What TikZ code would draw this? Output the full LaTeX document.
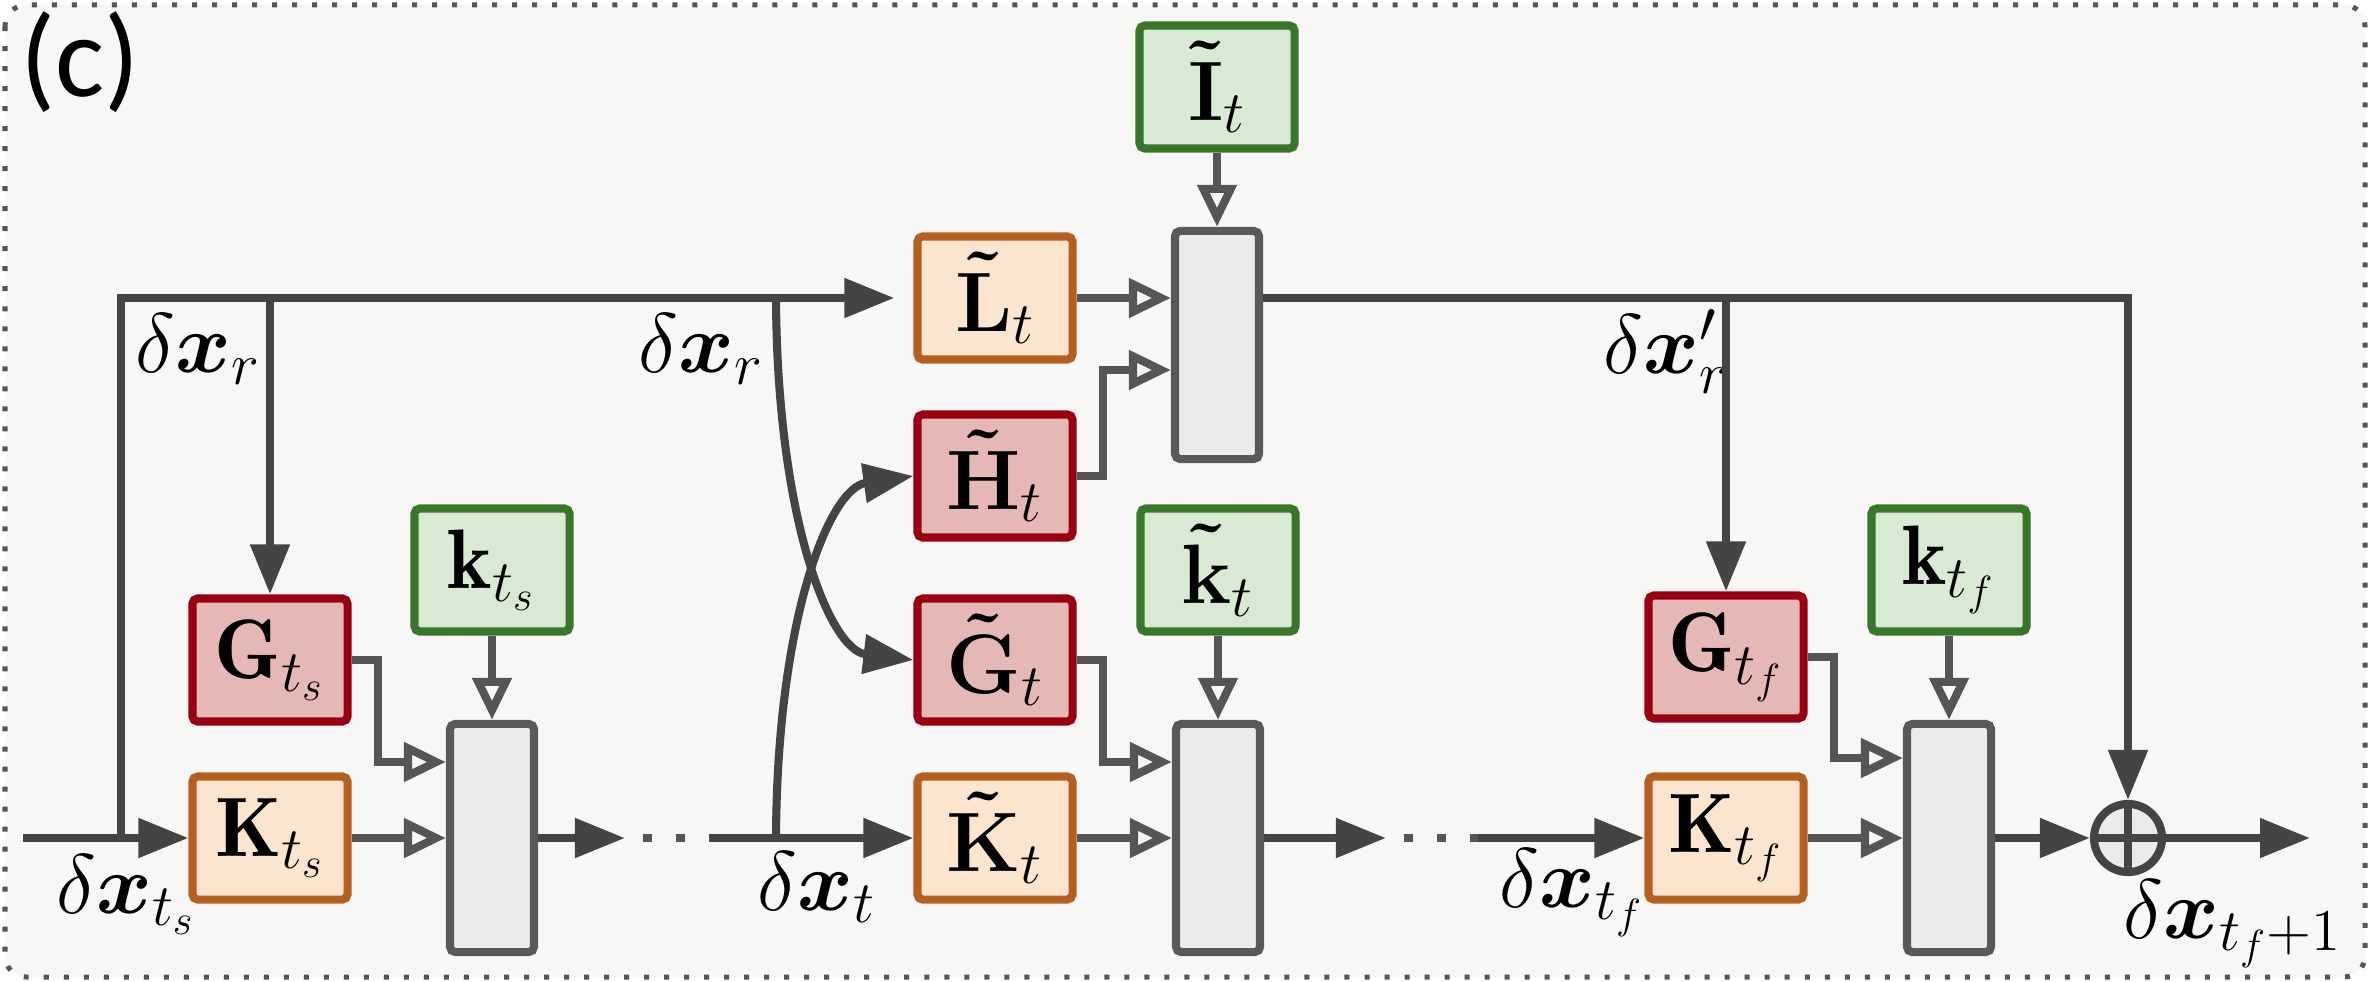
\RequirePackage{fix-cm}
\documentclass[tikz,border=0pt]{standalone}
\usepackage{amsmath,bm}
\usepackage{fontspec}
\newfontfamily\labfont{Carlito}
\usetikzlibrary{arrows.meta,calc}
\definecolor{bgc}{HTML}{F8F7F5}
\definecolor{ln}{HTML}{444444}
\definecolor{lnb}{HTML}{555555}
\definecolor{orf}{HTML}{FCE5CF}
\definecolor{orb}{HTML}{B45F1F}
\definecolor{rdf}{HTML}{E6B8B5}
\definecolor{rdb}{HTML}{990011}
\definecolor{gnf}{HTML}{D9EAD4}
\definecolor{gnb}{HTML}{38762A}
\definecolor{gyf}{HTML}{EBEBEB}
\definecolor{gyb}{HTML}{595959}
\newcommand{\tb}[1]{\mbox{\boldmath$\tilde{\mathbf{#1}}$}}
\tikzset{
  bx/.style={draw, line width=2.3pt, rounded corners=1.5pt, minimum width=1.55cm, minimum height=1.23cm, inner sep=0pt},
  ob/.style={bx, draw=orb, fill=orf},
  rb/.style={bx, draw=rdb, fill=rdf},
  gb/.style={bx, draw=gnb, fill=gnf},
  opb/.style={draw=gyb, fill=gyf, line width=2.3pt, rounded corners=1.5pt, minimum width=0.84cm, minimum height=2.28cm, inner sep=0pt},
  con/.style={draw=ln, line width=2.3pt},
  fa/.style={con, -{Triangle[length=0.5cm,width=0.38cm]}},
  oa/.style={draw=lnb, line width=2.3pt, -{Triangle[open,length=0.42cm,width=0.38cm]}},
  dotl/.style={draw=lnb, line width=2.3pt, dash pattern=on 0.09cm off 0.24cm, dash phase=0.15cm},
  lab/.style={inner sep=0pt, anchor=base west},
  sumc/.style={circle, draw=ln, fill=gyf, line width=2.3pt, minimum size=0.68cm, inner sep=0pt},
}
\begin{document}
\begin{tikzpicture}[x=0.01cm,y=-0.01cm,font=\fontsize{24}{29}\selectfont]
\useasboundingbox (0,0) rectangle (2370,982);
\fill[white] (0,0) rectangle (2370,982);
\draw[fill=bgc, draw=lnb, line width=0.05cm, dash pattern=on 0.05cm off 0.15cm, rounded corners=6pt] (5,5) rectangle (2365,977);
\node[lab, font=\labfont\fontsize{33}{36}\selectfont] (cap) at (20,97) {(c)};

% boxes
\node[rb] (Gts) at (270,660) {$\mathbf{G}_{t_s}$};
\node[ob] (Kts) at (270,838) {$\mathbf{K}_{t_s}$};
\node[gb] (kts) at (492,570) {$\mathbf{k}_{t_s}$};
\node[opb] (B1) at (492,838) {};

\node[ob] (Lt) at (995,298) {$\tb{L}_t$};
\node[rb] (Ht) at (995,476) {$\tb{H}_t$};
\node[rb] (Gt) at (995,660) {$\tb{G}_t$};
\node[ob] (Kt) at (995,838) {$\tb{K}_t$};
\node[gb] (It) at (1217,87) {$\tb{I}_t$};
\node[opb] (B0) at (1217,345) {};
\node[gb] (kt) at (1218,570) {$\tb{k}_t$};
\node[opb] (B2) at (1218,838) {};

\node[rb] (Gtf) at (1726,657) {$\mathbf{G}_{t_f}$};
\node[ob] (Ktf) at (1726,838) {$\mathbf{K}_{t_f}$};
\node[gb] (ktf) at (1949,570) {$\mathbf{k}_{t_f}$};
\node[opb] (B3) at (1949,838) {};
\node[sumc] (Ox) at (2128,838) {};
\draw[ln, line width=2.3pt] (Ox.north) -- (Ox.south) (Ox.west) -- (Ox.east);

% labels
\node[lab] (lr1) at (135,372) {$\delta\bm{x}_r$};
\node[lab] (lr2) at (638,372) {$\delta\bm{x}_r$};
\node[lab] (lr3) at (1603,373) {$\delta\bm{x}'_r$};
\node[lab] (lts) at (56,913) {$\delta\bm{x}_{t_s}$};
\node[lab] (lt) at (757,910) {$\delta\bm{x}_t$};
\node[lab] (ltf) at (1499,907) {$\delta\bm{x}_{t_f}$};
\node[inner sep=0pt, anchor=base east] (lout) at (2343,938) {$\delta\bm{x}_{t_f+1}$};

% coordinates
\coordinate (in0) at (23,838);
\coordinate (j0) at (121,838);
\coordinate (t0) at (121,298);
\coordinate (j1) at (270,298);
\coordinate (j2) at (776,298);
\coordinate (j3) at (776,838);
\coordinate (d1) at (625,838);
\coordinate (d2) at (710,838);
\coordinate (d3) at (1386,838);
\coordinate (d4) at (1478,838);
\coordinate (j4) at (1726,298);
\coordinate (t2) at (2128,298);
\coordinate (out) at (2310,838);

% main flow
\draw[fa] (in0) -- (Kts.west);
\draw[fa, shorten >=0.19cm] (j0) -- (t0) -- (Lt.west);
\draw[fa] (j1) -- (Gts.north);
\draw[oa] (Kts.east) -- (B1.west);
\draw[oa] (Gts.east) -- ++(26,0) |- ($(B1.west)+(0,-76)$);
\draw[oa] (kts.south) -- (B1.north);
\draw[fa] (B1.east) -- (d1);
\draw[dotl] (d1) -- (d2);
\draw[fa] (d2) -- (Kt.west);
\draw[fa] (j2) .. controls (777,520) and (830,650) .. (Gt.west);
\draw[fa] (j3) .. controls (777,616) and (830,488) .. (Ht.west);

\draw[oa] (Lt.east) -- (Lt.east -| B0.west);
\draw[oa] (Ht.east) -- ++(26,0) |- ($(B0.west)+(0,25)$);
\draw[oa] (It.south) -- (B0.north);
\draw[oa] (Kt.east) -- (B2.west);
\draw[oa] (Gt.east) -- ++(26,0) |- ($(B2.west)+(0,-76)$);
\draw[oa] (kt.south) -- (B2.north);
\draw[fa] (B2.east) -- (d3);
\draw[dotl] (d3) -- (d4);
\draw[fa] (d4) -- (Ktf.west);

\draw[fa] (B0.east |- t2) -- (t2) -- (Ox.north);
\draw[fa] (j4) -- (Gtf.north);
\draw[oa] (Ktf.east) -- (B3.west);
\draw[oa] (Gtf.east) -- ++(26,0) |- ($(B3.west)+(0,-80)$);
\draw[oa] (ktf.south) -- (B3.north);
\draw[fa] (B3.east) -- (Ox.west);
\draw[fa] (Ox.east) -- (out);
\end{tikzpicture}
\end{document}
